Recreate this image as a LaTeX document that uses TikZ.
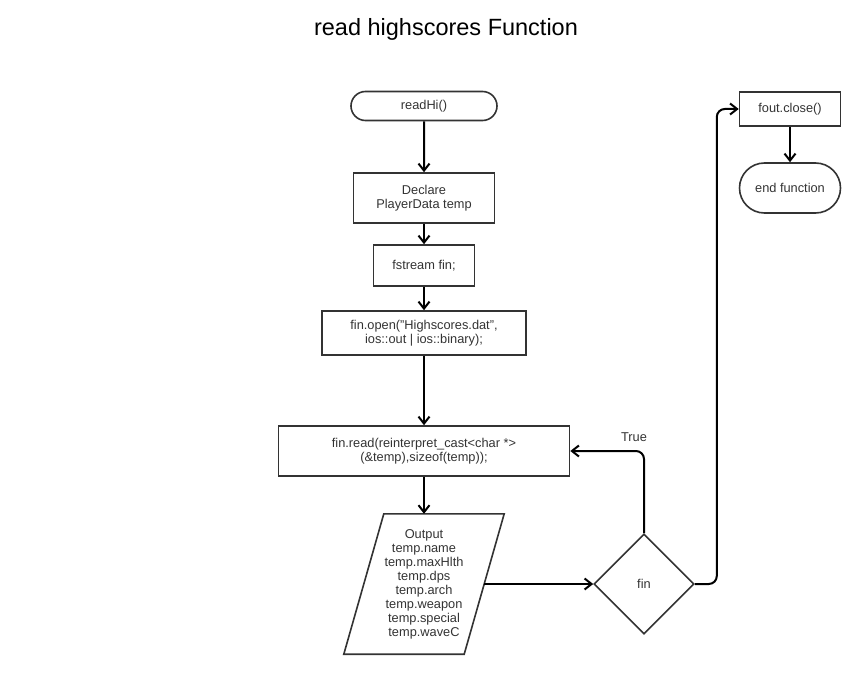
\documentclass[tikz,border=0pt]{standalone}
\usepackage{fontspec}
\setmainfont{Liberation Sans}
\usetikzlibrary{arrows,arrows.meta,shapes.geometric,shapes.misc,calc}

\begin{document}
\begin{tikzpicture}[x=1pt,y=-1pt,>={Straight Barb[length=7pt,width=11pt]},
    every node/.style={text=black!80, font=\fontsize{12.8}{14}\selectfont},
    procbox/.style={draw=black!80, line width=1.6pt, rectangle, align=center, inner sep=0pt},
    termbox/.style={draw=black!80, line width=1.6pt, rounded rectangle, align=center, inner sep=0pt},
    decbox/.style={draw=black!80, line width=1.6pt, diamond, inner sep=0pt, minimum width=100pt, minimum height=100pt},
    flow/.style={->, line width=2pt, black, rounded corners=8pt}]
  \useasboundingbox (0,0) rectangle (868,674);
  \node[text=black] (title) at (446,29) {\fontsize{23.5}{28}\selectfont read highscores Function};
  % main column
  \node[termbox, minimum width=146pt, minimum height=29pt] (readhi) at (424,106) {readHi()};
  \node[procbox, minimum width=141pt, minimum height=50pt] (declare) at (424,198) {Declare\\PlayerData temp};
  \node[procbox, minimum width=101pt, minimum height=41pt] (fstream) at (424,265.5) {fstream fin;};
  \node[procbox, minimum width=204pt, minimum height=44pt] (open) at (424,333) {fin.open("Highscores.dat",\\ios::out | ios::binary);};
  \node[procbox, minimum width=291pt, minimum height=50pt] (read) at (424,451) {fin.read(reinterpret\_cast<char *>\\(\&temp),sizeof(temp));};
  \node[align=center, minimum width=120pt, minimum height=140pt, inner sep=0pt] (output) at (424,584)
     {Output\\temp.name\\temp.maxHlth\\temp.dps\\temp.arch\\temp.weapon\\temp.special\\temp.waveC};
  \draw[black!80, line width=1.6pt] ([xshift=20pt]output.north west) -- ([xshift=20pt]output.north east)
     -- ([xshift=-20pt]output.south east) -- ([xshift=-20pt]output.south west) -- cycle;
  \node[decbox] (fin) at (644,584) {fin};
  % right column
  \node[procbox, minimum width=101pt, minimum height=34pt] (fout) at (790,109) {fout.close()};
  \node[termbox, minimum width=101pt, minimum height=50pt] (endf) at (790,188) {end function};

  \draw[flow] (readhi) -- (declare);
  \draw[flow] (declare) -- (fstream);
  \draw[flow] (fstream) -- (open);
  \draw[flow] (open) -- (read);
  \draw[flow] (read) -- (output);
  \draw[flow] (output) -- (fin);
  \draw[flow] (fin.north) |- (read.east) node[pos=0.5, above, xshift=-10pt, yshift=5pt] {True};
  \draw[flow] (fin.east) -- ++(22,0) |- (fout.west);
  \draw[flow] (fout) -- (endf);
\end{tikzpicture}
\end{document}
